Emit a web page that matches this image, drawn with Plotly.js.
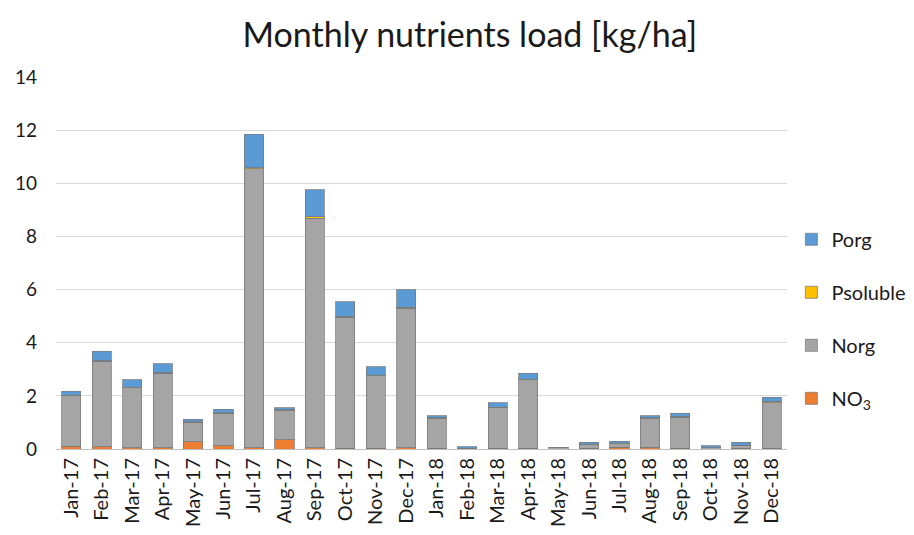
<!DOCTYPE html>
<html><head><meta charset="utf-8">
<script src="https://cdn.plot.ly/plotly-3.0.1.min.js"></script>
<style>html,body{margin:0;padding:0;background:#fff;}#chart{width:914px;height:535px;}</style>
</head><body><div id="chart"></div>
<script>
const months = ["Jan-17","Feb-17","Mar-17","Apr-17","May-17","Jun-17","Jul-17","Aug-17","Sep-17","Oct-17","Nov-17","Dec-17",
                "Jan-18","Feb-18","Mar-18","Apr-18","May-18","Jun-18","Jul-18","Aug-18","Sep-18","Oct-18","Nov-18","Dec-18"];
const no3 =      [0.10,0.08,0.05,0.04,0.28,0.12,0.04,0.35,0.04,0.03,0.03,0.04, 0.03,0.00,0.03,0.03,0.00,0.02,0.06,0.06,0.03,0.00,0.02,0.03];
const norg =     [1.90,3.22,2.25,2.81,0.72,1.23,10.50,1.10,8.65,4.92,2.72,5.26, 1.12,0.02,1.52,2.57,0.05,0.16,0.14,1.09,1.17,0.04,0.13,1.72];
const psoluble = [0.03,0.03,0.03,0.02,0.02,0.02,0.05,0.02,0.05,0.03,0.02,0.03, 0.02,0.00,0.02,0.02,0.00,0.00,0.02,0.03,0.02,0.00,0.00,0.02];
const porg =     [0.15,0.35,0.27,0.33,0.10,0.13,1.26,0.08,1.01,0.57,0.33,0.67, 0.08,0.06,0.18,0.23,0.00,0.07,0.08,0.07,0.13,0.08,0.10,0.18];

const mk = (c) => ({color: c, line: {color: 'rgba(120,120,120,0.75)', width: 1}});
const traces = [
  {type:'bar', name:'NO<sub>3</sub>', x: months, y: no3, marker: mk('#ED7D31'), legendgroup:'a', legendrank: 4},
  {type:'bar', name:'Norg', x: months, y: norg, marker: mk('#A5A5A5'), legendgroup:'b', legendrank: 3},
  {type:'bar', name:'Psoluble', x: months, y: psoluble, marker: mk('#FFC000'), legendgroup:'c', legendrank: 2},
  {type:'bar', name:'Porg', x: months, y: porg, marker: mk('#5B9BD5'), legendgroup:'d', legendrank: 1}
];
const font = "Lato, 'Open Sans', sans-serif";
const layout = {
  width: 914, height: 535,
  margin: {l: 56, r: 127, t: 77, b: 86, autoexpand: false},
  barmode: 'stack', bargap: 0.37,
  paper_bgcolor: '#fff', plot_bgcolor: '#fff',
  font: {family: font, color: '#404040', size: 19},
  title: {text: 'Monthly nutrients load [kg/ha]', font: {family: font, size: 34, color: '#1a1a1a'}, x: 0.514, xanchor: 'center', y: 0.935, yanchor: 'middle'},
  xaxis: {type: 'category', tickangle: -90, tickfont: {size: 20, color: '#1a1a1a'}, showline: true, linecolor: '#bfbfbf', linewidth: 1, ticks: '', showgrid: false},
  yaxis: {range: [0, 14], dtick: 2, tickfont: {size: 19, color: '#1a1a1a'}, ticklabelstandoff: 18, showgrid: true, gridcolor: '#d9d9d9', gridwidth: 1, zeroline: false, showline: false, ticks: '', ticklen: 0},
  showlegend: true,
  legend: {traceorder: 'grouped', x: 1.006, xanchor: 'left', y: 0.35, yanchor: 'middle', font: {size: 20, color: '#1a1a1a'}, tracegroupgap: 24, itemwidth: 30, bgcolor: 'rgba(0,0,0,0)'}
};
Plotly.newPlot('chart', traces, layout, {displayModeBar: false, staticPlot: true});
</script>
</body></html>
